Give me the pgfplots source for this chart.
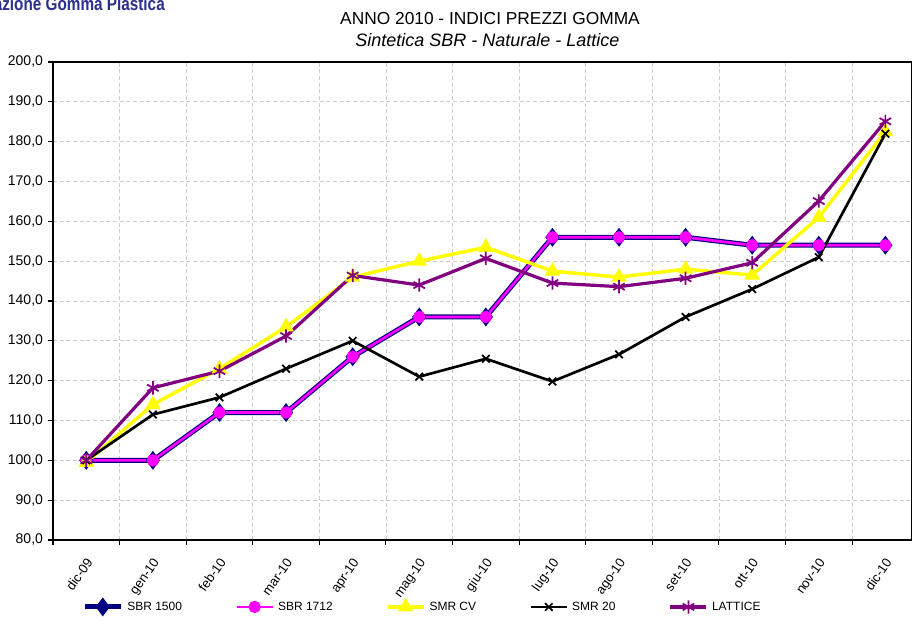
\documentclass[border=0pt]{standalone}
\usepackage{pgfplots}
\pgfplotsset{compat=1.18}
\usepackage{fontspec}
\setmainfont{Liberation Sans}
\definecolor{navyc}{HTML}{000080}
\definecolor{magc}{HTML}{FF00FF}
\definecolor{yelc}{HTML}{FFFF00}
\definecolor{purc}{HTML}{800080}
\definecolor{titleblue}{HTML}{2B2F8F}
\begin{document}
\begin{tikzpicture}
\useasboundingbox (0,0) rectangle (684pt,468.75pt);
\node[anchor=base east, font=\bfseries\fontsize{14}{16}\selectfont, text=titleblue, inner sep=0, xscale=0.82] at (123.75pt,461pt) {Federazione Gomma Plastica};
\node[font=\fontsize{13}{15}\selectfont, inner sep=0] at (367.5pt,455pt) {ANNO 2010 - INDICI PREZZI GOMMA};
\node[font=\itshape\fontsize{13.5}{15}\selectfont, inner sep=0] at (365.5pt,438.5pt) {Sintetica SBR - Naturale - Lattice};
\begin{axis}[
  at={(39.75pt,63.75pt)}, anchor=south west, scale only axis,
  width=644.25pt, height=358.5pt,
  xmin=-0.5, xmax=12.4, ymin=80, ymax=200,
  ytick={80,90,...,200},
  xtick={0,...,12},
  xticklabels={dic-09,gen-10,feb-10,mar-10,apr-10,mag-10,giu-10,lug-10,ago-10,set-10,ott-10,nov-10,dic-10},
  minor xtick={-0.5,0.5,...,12.5},
  major x tick style={draw=none},
  xmajorgrids=false, xminorgrids=true, ymajorgrids=true,
  grid style={black!20, dash pattern=on 3pt off 2pt, line width=0.6pt},
  minor grid style={black!20, dash pattern=on 3pt off 2pt, line width=0.6pt},
  tick align=outside, tick pos=left,
  major tick length=4pt, minor tick length=4pt,
  tick style={black, line width=0.8pt},
  axis line style={line width=1.5pt},
  yticklabel style={font=\fontsize{10.5}{12}\selectfont, /pgf/number format/.cd, fixed, fixed zerofill, precision=1, use comma, assume math mode=true},
  xticklabel style={font=\fontsize{9.8}{11}\selectfont, rotate=55, anchor=north east, yshift=-1pt, xshift=-4pt},
  legend columns=5,
  legend style={at={(0.0338,-0.14)}, anchor=west, draw=none, fill=none,
    font=\fontsize{9}{11}\selectfont, column sep=1pt, inner sep=0pt,
    /tikz/every even column/.append style={column sep=38pt}},
  legend cell align=left,
  legend image code/.code={
    \draw[mark repeat=2,mark phase=2] plot coordinates {(0pt,0pt) (13.5pt,0pt) (27pt,0pt)};
  },
]
\addplot[navyc, line width=3.75pt, mark=diamond*, mark size=4pt, mark options={solid, fill=navyc}] coordinates {
(0,100) (1,100) (2,112) (3,112) (4,126) (5,136) (6,136) (7,156) (8,156) (9,156) (10,154) (11,154) (12,154)};
\addlegendentry{SBR 1500}
\addplot[magc, line width=2pt, mark=*, mark size=3.6pt, mark options={solid, fill=magc, draw=magc}] coordinates {
(0,100) (1,100) (2,112) (3,112) (4,126) (5,136) (6,136) (7,156) (8,156) (9,156) (10,154) (11,154) (12,154)};
\addlegendentry{SBR 1712}
\addplot[yelc, line width=2.6pt, mark=triangle*, mark size=4.2pt, mark options={solid, fill=yelc}] coordinates {
(0,99.5) (1,114) (2,123) (3,133.5) (4,146) (5,150) (6,153.5) (7,147.5) (8,146) (9,148) (10,146.5) (11,161) (12,182.5)};
\addlegendentry{SMR CV}
\addplot[black, line width=2pt, mark=x, mark size=4pt, mark options={solid, line width=1.3pt}] coordinates {
(0,100) (1,111.5) (2,115.8) (3,123) (4,130) (5,121) (6,125.5) (7,119.8) (8,126.6) (9,136) (10,143) (11,151) (12,182)};
\addlegendentry{SMR 20}
\addplot[purc, line width=2.4pt, mark=asterisk, mark size=5pt, mark options={solid, line width=1.3pt}] coordinates {
(0,100) (1,118.2) (2,122.4) (3,131.2) (4,146.4) (5,144) (6,150.7) (7,144.5) (8,143.6) (9,145.7) (10,149.6) (11,165.1) (12,185.1)};
\addlegendentry{LATTICE}
\end{axis}
\end{tikzpicture}
\end{document}
